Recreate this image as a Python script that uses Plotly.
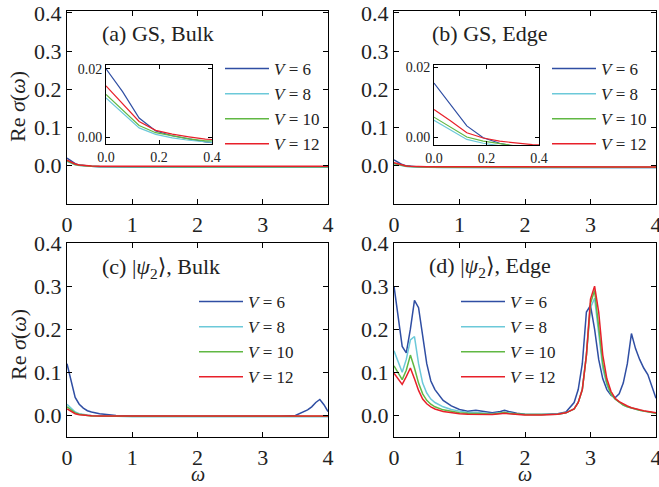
import plotly.graph_objects as go

W, H = 659, 487
FONT = "Liberation Serif, DejaVu Serif, serif"

V_labels = ["6", "8", "10", "12"]
colors = ["#2f4ea3", "#6cc9d9", "#60b843", "#e8202a"]

# ---- Panel (a) GS, Bulk / (b) GS, Edge ----
omega_gs = [0, 0.0625, 0.125, 0.1875, 0.25, 0.3125, 0.375, 0.5, 0.75, 1, 1.5, 2, 2.5, 3, 3.5, 4]
a_V6 = [0.020, 0.0133, 0.0056, 0.0018, 0.0004, -0.0006, -0.0014, -0.0025, -0.0032, -0.0035, -0.0037, -0.0038, -0.0038, -0.0038, -0.0038, -0.0038]
a_V8 = [0.0115, 0.0071, 0.0027, 0.0008, -0.0002, -0.0009, -0.0015, -0.0022, -0.0028, -0.0030, -0.0031, -0.0031, -0.0031, -0.0031, -0.0031, -0.0031]
a_V10 = [0.0125, 0.0080, 0.0034, 0.0013, 0.0003, -0.0005, -0.0011, -0.0017, -0.0021, -0.0022, -0.0023, -0.0023, -0.0023, -0.0023, -0.0023, -0.0023]
a_V12 = [0.0150, 0.0098, 0.0046, 0.0020, 0.0009, 0.0001, -0.0006, -0.0010, -0.0012, -0.0013, -0.0013, -0.0013, -0.0013, -0.0013, -0.0013, -0.0013]

b_V6 = [0.0155, 0.0095, 0.0032, -0.0002, -0.0018, -0.0028, -0.0034, -0.0040, -0.0044, -0.0045, -0.0046, -0.0046, -0.0046, -0.0046, -0.0046, -0.0046]
b_V8 = [0.0048, 0.0021, -0.0007, -0.0018, -0.0026, -0.0032, -0.0036, -0.0041, -0.0044, -0.0045, -0.0045, -0.0045, -0.0045, -0.0045, -0.0045, -0.0045]
b_V10 = [0.0057, 0.0029, 0.0000, -0.0012, -0.0020, -0.0026, -0.0030, -0.0035, -0.0038, -0.0039, -0.0039, -0.0039, -0.0039, -0.0039, -0.0039, -0.0039]
b_V12 = [0.0079, 0.0047, 0.0012, -0.0003, -0.0012, -0.0018, -0.0022, -0.0026, -0.0028, -0.0029, -0.0029, -0.0029, -0.0029, -0.0029, -0.0029, -0.0029]

# ---- Panel (c) |psi2>, Bulk ----
omega_c = [0, 0.0625, 0.125, 0.1875, 0.25, 0.3125, 0.375, 0.5, 0.625, 0.75, 1, 1.5, 2, 2.5, 3,
           3.25, 3.5, 3.625, 3.6875, 3.75, 3.8125, 3.875, 3.9375, 4]
c_V6 = [0.120, 0.080, 0.042, 0.026, 0.017, 0.011, 0.008, 0.004, 0.0015, 0.0, -0.001, -0.002, -0.002, -0.002, -0.002,
        -0.002, 0.0, 0.008, 0.013, 0.020, 0.030, 0.037, 0.025, 0.009]
c_V8 = [0.026, 0.018, 0.008, 0.004, 0.002, 0.001, 0.0, -0.001, -0.002, -0.002, -0.003, -0.003, -0.003, -0.003, -0.003,
        -0.003, -0.003, -0.003, -0.003, -0.003, -0.003, -0.003, -0.003, -0.003]
c_V10 = [0.020, 0.013, 0.006, 0.003, 0.001, 0.0, -0.001, -0.0015, -0.002, -0.002, -0.002, -0.002, -0.002, -0.002, -0.002,
         -0.002, -0.002, -0.002, -0.002, -0.002, -0.002, -0.002, -0.002, -0.002]
c_V12 = [0.015, 0.010, 0.004, 0.0015, 0.0005, 0.0, -0.0005, -0.001, -0.001, -0.001, -0.001, -0.001, -0.001, -0.001, -0.001,
         -0.001, -0.001, -0.001, -0.001, -0.001, -0.001, -0.001, -0.001, -0.001]

# ---- Panel (d) |psi2>, Edge ----
omega_d = [0, 0.0625, 0.125, 0.1875, 0.25, 0.3125, 0.375, 0.4375, 0.5, 0.5625, 0.625, 0.75, 0.875, 1.0,
           1.125, 1.25, 1.375, 1.5, 1.625, 1.6875, 1.75, 1.875, 2.0, 2.25, 2.5, 2.625, 2.75, 2.8125, 2.875,
           2.9375, 3.0, 3.0625, 3.125, 3.1875, 3.25, 3.3125, 3.375, 3.4375, 3.5, 3.5625, 3.625, 3.6875,
           3.75, 3.8125, 3.875, 3.9375, 4.0]
d_V6 = [0.300, 0.230, 0.160, 0.145, 0.200, 0.267, 0.250, 0.185, 0.120, 0.080, 0.060, 0.035, 0.022, 0.014,
        0.010, 0.012, 0.009, 0.006, 0.009, 0.012, 0.009, 0.005, 0.003, 0.002, 0.004, 0.008, 0.030, 0.060, 0.120,
        0.240, 0.255, 0.200, 0.130, 0.085, 0.060, 0.047, 0.041, 0.050, 0.075, 0.120, 0.190, 0.155,
        0.130, 0.110, 0.095, 0.065, 0.040]
d_V8 = [0.150, 0.125, 0.100, 0.130, 0.175, 0.183, 0.120, 0.075, 0.052, 0.038, 0.030, 0.020, 0.014, 0.010,
        0.007, 0.007, 0.005, 0.004, 0.006, 0.008, 0.006, 0.003, 0.002, 0.002, 0.003, 0.006, 0.015, 0.030, 0.060,
        0.140, 0.250, 0.272, 0.190, 0.110, 0.070, 0.050, 0.038, 0.030, 0.024, 0.020, 0.017, 0.014,
        0.012, 0.010, 0.008, 0.006, 0.005]
d_V10 = [0.115, 0.098, 0.083, 0.105, 0.140, 0.110, 0.075, 0.050, 0.035, 0.026, 0.020, 0.013, 0.009, 0.006,
         0.005, 0.005, 0.004, 0.003, 0.005, 0.007, 0.005, 0.003, 0.002, 0.002, 0.003, 0.006, 0.015, 0.030, 0.060,
         0.140, 0.260, 0.290, 0.210, 0.120, 0.075, 0.050, 0.038, 0.030, 0.024, 0.020, 0.017, 0.014,
         0.012, 0.010, 0.008, 0.006, 0.005]
d_V12 = [0.098, 0.085, 0.072, 0.090, 0.110, 0.085, 0.058, 0.038, 0.027, 0.020, 0.015, 0.009, 0.006, 0.004,
         0.003, 0.003, 0.003, 0.002, 0.004, 0.005, 0.004, 0.002, 0.001, 0.001, 0.003, 0.006, 0.015, 0.030, 0.060,
         0.140, 0.270, 0.300, 0.240, 0.140, 0.085, 0.056, 0.040, 0.032, 0.026, 0.022, 0.018, 0.015,
         0.013, 0.011, 0.009, 0.007, 0.006]

panel_titles = ["(a) GS, Bulk", "(b) GS, Edge",
                "(c) |<i>ψ</i><sub>2</sub>⟩, Bulk", "(d) |<i>ψ</i><sub>2</sub>⟩, Edge"]


def px_x(a, b):
    return [a / W, b / W]


def px_y(top, bottom):
    return [1 - bottom / H, 1 - top / H]


fig = go.Figure()

panels = [
    ("x", "y", omega_gs, [a_V6, a_V8, a_V10, a_V12], "legend"),
    ("x2", "y2", omega_gs, [b_V6, b_V8, b_V10, b_V12], "legend2"),
    ("x3", "y3", omega_c, [c_V6, c_V8, c_V10, c_V12], "legend3"),
    ("x4", "y4", omega_d, [d_V6, d_V8, d_V10, d_V12], "legend4"),
]
for pi, (xa, ya, om, series, lg) in enumerate(panels):
    for i, ser in enumerate(series):
        fig.add_trace(go.Scatter(
            x=om, y=ser, xaxis=xa, yaxis=ya, mode="lines",
            line=dict(color=colors[i], width=1.5),
            name=f"<i>V</i> = {V_labels[i]}", legend=lg,
            legendgroup=f"{lg}_{i}", showlegend=True))

insets = [("x5", "y5", omega_gs, [a_V6, a_V8, a_V10, a_V12]),
          ("x6", "y6", omega_gs, [b_V6, b_V8, b_V10, b_V12])]
for xa, ya, om, series in insets:
    for i, ser in enumerate(series):
        fig.add_trace(go.Scatter(
            x=om, y=ser, xaxis=xa, yaxis=ya, mode="lines",
            line=dict(color=colors[i], width=1.2), showlegend=False))

axis_common = dict(showline=True, linecolor="black", linewidth=1.3, mirror="ticks",
                   ticks="inside", ticklen=5, tickwidth=1.2, tickcolor="black",
                   showgrid=False, zeroline=False, automargin=False,
                   ticklabeloverflow="allow",
                   tickfont=dict(family=FONT, size=22, color="#222"))

xdoms = [px_x(67, 328), px_x(394, 656)]
ydoms = [px_y(11, 204), px_y(243, 437)]

layout = dict(
    width=W, height=H, margin=dict(l=0, r=0, t=0, b=0, pad=0, autoexpand=False),
    paper_bgcolor="white", plot_bgcolor="rgba(0,0,0,0)",
    font=dict(family=FONT, color="#222"),
)
xticks = [0, 1, 2, 3, 4]
for k, (r, c) in enumerate([(0, 0), (0, 1), (1, 0), (1, 1)]):
    n = "" if k == 0 else str(k + 1)
    yr = [-0.1, 0.405] if r == 0 else [-0.05, 0.4]
    layout["xaxis" + n] = dict(axis_common, domain=xdoms[c], range=[0, 4], tickvals=xticks,
                               anchor="y" + n)
    layout["yaxis" + n] = dict(axis_common, domain=ydoms[r], range=yr,
                               tickvals=[0, 0.1, 0.2, 0.3, 0.4], tickformat=".1f",
                               anchor="x" + n)

inset_common = dict(axis_common, tickfont=dict(family=FONT, size=14, color="#222"), ticklen=4,
                    linewidth=1.1)
layout["xaxis5"] = dict(inset_common, domain=px_x(106, 212), range=[0, 0.4], tickvals=[0, 0.2, 0.4],
                        tickformat=".1f", anchor="y5")
layout["yaxis5"] = dict(inset_common, domain=px_y(65, 144), range=[-0.002, 0.0211], tickvals=[0, 0.02],
                        tickformat=".2f", anchor="x5")
layout["xaxis6"] = dict(inset_common, domain=px_x(434, 539), range=[0, 0.4], tickvals=[0, 0.2, 0.4],
                        tickformat=".1f", anchor="y6")
layout["yaxis6"] = dict(inset_common, domain=px_y(65, 145), range=[-0.0023, 0.0207], tickvals=[0, 0.02],
                        tickformat=".2f", anchor="x6")

leg_common = dict(bgcolor="rgba(0,0,0,0)", borderwidth=0, xanchor="left", yanchor="top",
                  font=dict(family=FONT, size=17, color="#222"), tracegroupgap=0,
                  traceorder="grouped", itemwidth=44)
leg_pos = [(225, 51), (552, 51), (199, 284), (461, 284)]
for k, (lx, ly) in enumerate(leg_pos):
    n = "legend" if k == 0 else f"legend{k + 1}"
    layout[n] = dict(leg_common, x=(lx - 5) / W, y=1 - ly / H)

fig.update_layout(**layout)

title_pos = [(100, 33), (430, 33), (100, 268), (427, 267)]
for t, (tx, ty) in zip(panel_titles, title_pos):
    fig.add_annotation(text=t, x=tx / W, y=1 - ty / H, xref="paper", yref="paper",
                       xanchor="left", yanchor="middle", showarrow=False,
                       font=dict(family=FONT, size=22, color="#222"))

for ycen in [107, 345]:
    fig.add_annotation(text="Re <i>σ</i>(<i>ω</i>)", x=18 / W, y=1 - ycen / H, xref="paper", yref="paper",
                       textangle=-90, showarrow=False, xanchor="center", yanchor="middle",
                       font=dict(family=FONT, size=22, color="#222"))
for xcen in [198, 525]:
    fig.add_annotation(text="<i>ω</i>", x=xcen / W, y=1 - 474 / H, xref="paper", yref="paper",
                       showarrow=False, xanchor="center", yanchor="middle",
                       font=dict(family=FONT, size=20, color="#222"))

fig.write_html("out.html")
